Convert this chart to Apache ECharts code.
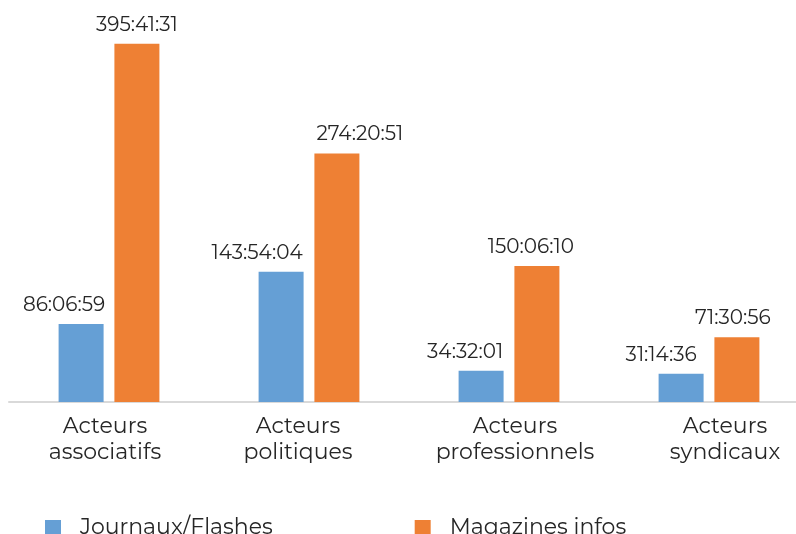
<!DOCTYPE html>
<html>
<head>
<meta charset="utf-8">
<script src="https://cdn.jsdelivr.net/npm/echarts@6/dist/echarts.min.js"></script>
<style>
  html, body { margin: 0; padding: 0; background: #fff; }
  #chart { width: 796px; height: 534px; }
</style>
</head>
<body>
<div id="chart"></div>
<script>
  // categories and durations (hh:mm:ss)
  var categories = ['Acteurs\nassociatifs', 'Acteurs\npolitiques', 'Acteurs\nprofessionnels', 'Acteurs\nsyndicaux']
  var journauxDurations = ['86:06:59', '143:54:04', '34:32:01', '31:14:36']
  var magazinesDurations = ['395:41:31', '274:20:51', '150:06:10', '71:30:56']
  var seriesNames = ['Journaux/Flashes', 'Magazines infos']

  // horizontal nudge of each label, as in the original
  var journauxLabelShift = [-17, -24, -16, -20]
  var magazinesLabelShift = [0, 23, -6, -4]
  var categoryLabelShift = [-4, -11, 6, 16]

  function toHours (s) {
    var p = s.split(':')
    return (+p[0]) + (+p[1]) / 60 + (+p[2]) / 3600
  }

  function buildData (durations, shifts) {
    return durations.map(function (d, i) {
      return {
        value: toHours(d),
        label: { formatter: d, offset: [shifts[i], 0] }
      }
    })
  }

  function buildCategories () {
    return categories.map(function (c, i) {
      var s = categoryLabelShift[i]
      return {
        value: c,
        textStyle: { padding: s > 0 ? [0, 0, 0, 2 * s] : [0, -2 * s, 0, 0] }
      }
    })
  }

  var font = 'Montserrat, "Open Sans", sans-serif'
  var myChart = echarts.init(document.getElementById('chart'))
  var option = {
    animation: false,
    textStyle: { fontFamily: font },
    grid: { left: 9, top: 0, right: -13, height: 402, outerBoundsMode: 'none', containLabel: false },
    legend: {
      left: 45,
      top: 517,
      padding: 0,
      itemWidth: 16,
      itemHeight: 16,
      itemGap: 142,
      icon: 'rect',
      textStyle: { fontSize: 22, color: '#262626', fontFamily: font, padding: [0, 0, 0, 14] },
      data: seriesNames
    },
    xAxis: {
      type: 'category',
      data: buildCategories(),
      axisLine: { lineStyle: { color: '#d9d9d9', width: 2 } },
      axisTick: { show: false },
      axisLabel: {
        interval: 0,
        hideOverlap: false,
        fontSize: 22,
        lineHeight: 26,
        color: '#262626',
        margin: 12,
        fontFamily: font
      }
    },
    yAxis: {
      type: 'value',
      min: 0,
      max: 444,
      show: false,
      splitLine: { show: false }
    },
    series: [
      {
        name: seriesNames[0],
        type: 'bar',
        barWidth: 45,
        barGap: '24%',
        itemStyle: { color: '#659fd5' },
        label: { show: true, position: 'top', distance: 9, fontSize: 20, color: '#262626', fontFamily: font },
        data: buildData(journauxDurations, journauxLabelShift)
      },
      {
        name: seriesNames[1],
        type: 'bar',
        barWidth: 45,
        itemStyle: { color: '#ee8034' },
        label: { show: true, position: 'top', distance: 9, fontSize: 20, color: '#262626', fontFamily: font },
        data: buildData(magazinesDurations, magazinesLabelShift)
      }
    ]
  }
  myChart.setOption(option)
</script>
</body>
</html>
